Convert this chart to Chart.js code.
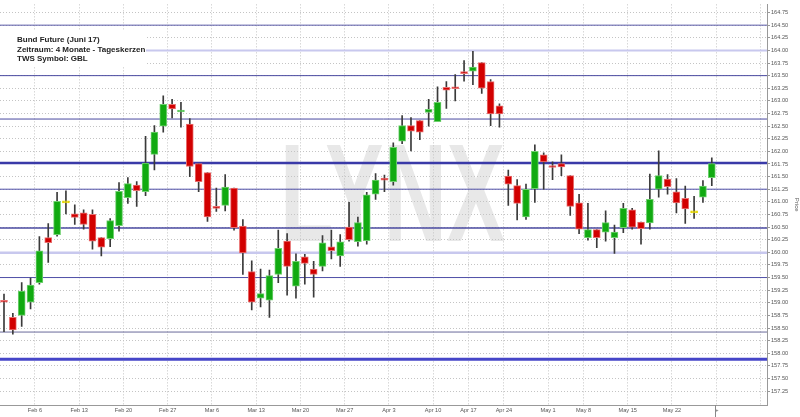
<!DOCTYPE html>
<html>
<head>
<meta charset="utf-8">
<script src="https://cdn.jsdelivr.net/npm/chart.js@4.4.0/dist/chart.umd.min.js"></script>
<style>
  html, body { margin: 0; padding: 0; background: #fff; }
  #canvas { display: block; }
</style>
</head>
<body>
<canvas id="canvas" width="800" height="417"></canvas>
<script>
'use strict';

// daily candles, index 0 = Jan 31 2017 (trading days only)
let opens = [159.03, 158.71, 158.75, 159.01, 159.40, 160.29, 160.35, 160.98, 160.76, 160.78,
  160.75, 160.29, 160.27, 160.53, 161.08, 161.33, 161.20, 161.94, 162.50, 162.93,
  162.78, 162.54, 161.76, 161.58, 160.89, 160.93, 161.27, 160.52, 159.62, 159.09,
  159.05, 159.56, 160.22, 159.33, 159.91, 159.67, 159.72, 160.11, 159.93, 160.50,
  160.21, 160.23, 161.15, 161.46, 161.40, 162.20, 162.51, 162.61, 162.77, 162.59,
  163.27, 163.26, 163.57, 163.59, 163.76, 163.38, 162.90, 161.51, 161.32, 160.70,
  161.26, 161.93, 161.70, 161.76, 161.52, 160.98, 160.29, 160.45, 160.40, 160.29,
  160.49, 160.84, 160.60, 160.58, 161.25, 161.45, 161.20, 161.07, 160.78, 161.09, 161.48];
let highs = [159.17, 158.79, 159.40, 159.49, 160.31, 160.57, 161.19, 161.22, 160.94, 160.84,
  160.84, 160.29, 160.67, 161.38, 161.48, 161.40, 162.30, 162.51, 163.10, 163.03,
  162.97, 162.65, 161.76, 161.58, 161.27, 161.54, 161.27, 160.65, 159.83, 159.67,
  159.65, 160.44, 160.37, 159.97, 159.96, 159.82, 160.33, 160.44, 160.35, 160.99,
  160.70, 161.19, 161.56, 161.53, 162.17, 162.71, 162.67, 162.61, 163.03, 163.28,
  163.38, 163.52, 163.80, 163.98, 163.76, 163.42, 162.94, 161.63, 161.44, 161.35,
  162.13, 161.97, 161.79, 161.93, 161.52, 161.15, 160.97, 160.45, 160.82, 160.54,
  160.97, 160.87, 160.60, 161.55, 162.01, 161.54, 161.46, 161.31, 161.11, 161.42, 161.87];
let lows = [158.43, 158.38, 158.53, 158.88, 159.37, 159.80, 160.32, 160.76, 160.55, 160.46,
  160.06, 159.93, 160.11, 160.42, 160.97, 160.91, 161.12, 161.63, 162.38, 162.66,
  162.48, 161.50, 161.20, 160.61, 160.81, 160.82, 160.44, 159.56, 158.86, 158.92,
  158.71, 159.40, 159.15, 159.09, 159.37, 159.11, 159.63, 159.87, 159.72, 160.22,
  160.12, 160.16, 161.05, 161.20, 161.33, 162.15, 162.01, 162.23, 162.50, 162.59,
  162.85, 163.00, 163.39, 163.32, 163.15, 162.51, 162.48, 160.93, 160.64, 160.65,
  160.99, 161.25, 161.44, 161.52, 160.73, 160.37, 160.24, 160.09, 160.22, 159.98,
  160.39, 160.46, 160.16, 160.46, 161.09, 161.15, 160.78, 160.57, 160.67, 160.99, 161.32];
let closes = [159.01, 158.46, 159.23, 159.35, 160.03, 160.19, 161.01, 160.98, 160.69, 160.55,
  160.22, 160.10, 160.63, 161.21, 161.36, 161.22, 161.77, 162.38, 162.93, 162.84,
  162.80, 161.70, 161.40, 160.70, 160.87, 161.29, 160.49, 159.99, 159.01, 159.18,
  159.54, 160.08, 159.72, 159.82, 159.78, 159.56, 160.19, 160.03, 160.21, 160.25,
  160.59, 161.14, 161.43, 161.43, 162.08, 162.51, 162.40, 162.38, 162.83, 162.97,
  163.21, 163.24, 163.54, 163.67, 163.25, 162.74, 162.74, 161.35, 160.97, 161.25,
  162.00, 161.79, 161.68, 161.69, 160.91, 160.46, 160.45, 160.29, 160.59, 160.40,
  160.87, 160.50, 160.47, 161.05, 161.52, 161.30, 160.98, 160.86, 160.78, 161.31, 161.76];

// week starts (between trading days) and their labels
let weekTicks = [3.5, 8.5, 13.5, 18.5, 23.5, 28.5, 33.5, 38.5, 43.5, 48.5, 52.5, 56.5, 61.5, 65.5, 70.5, 75.5, 80.5, 85.5];
let weekLabels = ['Feb 6', 'Feb 13', 'Feb 20', 'Feb 27', 'Mar 6', 'Mar 13', 'Mar 20', 'Mar 27', 'Apr 3',
  'Apr 10', 'Apr 17', 'Apr 24', 'May 1', 'May 8', 'May 15', 'May 22', ' +', ''];

let priceTicks = [157.25, 157.5, 157.75, 158, 158.25, 158.5, 158.75, 159, 159.25, 159.5, 159.75,
  160, 160.25, 160.5, 160.75, 161, 161.25, 161.5, 161.75, 162, 162.25, 162.5, 162.75,
  163, 163.25, 163.5, 163.75, 164, 164.25, 164.5, 164.75];

// horizontal support / resistance lines
let levels = [164.50, 164.00, 163.50, 162.64, 161.77, 161.25, 160.48, 159.99, 159.50, 158.42, 157.88];
let levelStyles = [
  {color: '#5a5aa8', width: 1},
  {color: '#c8c8ee', width: 2},
  {color: '#4a4aa0', width: 1},
  {color: '#4a4aa0', width: 1},
  {color: '#3a3aa8', width: 2.5},
  {color: '#5050a8', width: 1},
  {color: '#4a4aa0', width: 1.5},
  {color: '#c8c8ee', width: 2.5},
  {color: '#5050a8', width: 1},
  {color: '#6a6a9a', width: 1},
  {color: '#4646c8', width: 3}
];

let titleLines = ['Bund Future (Juni 17)', 'Zeitraum: 4 Monate - Tageskerzen', 'TWS Symbol: GBL'];

let canvas = document.getElementById('canvas');

let wickData = [];
let bodyData = [];
let bodyColors = [];
let edgeColors = [];

for (let i = 0; i < opens.length; i++) {
  wickData.push({x: i, y: [lows[i], highs[i]]});
  bodyData.push({x: i, y: [opens[i], closes[i]]});
  if (closes[i] > opens[i]) {
    bodyColors.push('#11aa11');
    edgeColors.push('#6fd06f');
  } else if (closes[i] < opens[i]) {
    bodyColors.push('#d20000');
    edgeColors.push('#e87070');
  } else {
    bodyColors.push('#e6d600');
    edgeColors.push('#e6d600');
  }
}

let bgPlugin = {
  id: 'bg',
  beforeDraw(chart) {
    let ctx = chart.ctx;
    ctx.save();
    ctx.fillStyle = '#fff';
    ctx.fillRect(0, 0, chart.width, chart.height);
    // watermark
    ctx.font = 'bold 140px "Liberation Sans"';
    let w = ctx.measureText('LYNX').width;
    ctx.translate(280, 241);
    ctx.scale(225 / w, 1);
    ctx.fillStyle = '#e8e8e8';
    ctx.textBaseline = 'alphabetic';
    ctx.fillText('LYNX', 0, 0);
    ctx.restore();
  },
  beforeDatasetsDraw(chart) {
    let ctx = chart.ctx;
    let area = chart.chartArea;
    let y = chart.scales.y;
    ctx.save();
    levels.forEach((lv, i) => {
      let py = y.getPixelForValue(lv);
      ctx.strokeStyle = levelStyles[i].color;
      ctx.lineWidth = levelStyles[i].width;
      ctx.beginPath();
      ctx.moveTo(area.left, py);
      ctx.lineTo(area.right, py);
      ctx.stroke();
    });
    ctx.restore();
  },
  afterDraw(chart) {
    let ctx = chart.ctx;
    let x = chart.scales.x;
    ctx.save();
    // info box
    ctx.fillStyle = '#fff';
    ctx.fillRect(0, 31, 146, 36);
    ctx.fillStyle = '#222';
    ctx.font = 'bold 8px "Liberation Sans"';
    ctx.textBaseline = 'middle';
    ctx.fillText(titleLines[0], 17, 40);
    ctx.fillText(titleLines[1], 17, 49.5);
    ctx.fillText(titleLines[2], 17, 59);
    // today marker below axis
    let px = Math.round(x.getPixelForValue(80.5)) - 0.5;
    ctx.strokeStyle = '#888';
    ctx.lineWidth = 1;
    ctx.beginPath();
    ctx.moveTo(px, chart.chartArea.bottom);
    ctx.lineTo(px, chart.height);
    ctx.stroke();
    ctx.restore();
  }
};

new Chart(canvas, {
  type: 'bar',
  data: {
    datasets: [{
      label: 'Range',
      data: wickData,
      backgroundColor: '#3a3a3a',
      barThickness: 1,
      minBarLength: 1,
      grouped: false,
      order: 2
    }, {
      label: 'Body',
      data: bodyData,
      backgroundColor: bodyColors,
      borderColor: edgeColors,
      borderWidth: 1,
      borderSkipped: false,
      barThickness: 7,
      minBarLength: 2,
      grouped: false,
      order: 1
    }]
  },
  options: {
    responsive: false,
    animation: false,
    devicePixelRatio: 1,
    layout: { padding: 0 },
    plugins: {
      legend: { display: false },
      tooltip: { enabled: false }
    },
    scales: {
      x: {
        type: 'linear',
        min: -0.452,
        max: 86.24,
        offset: false,
        grid: {
          offset: false,
          color: '#c4c4c4',
          lineWidth: 1,
          drawTicks: false
        },
        border: { display: true, color: '#999', width: 1, dash: [1, 2] },
        afterBuildTicks: scale => {
          scale.ticks = weekTicks.map(v => ({value: v}));
        },
        afterFit: scale => { scale.height = 12; },
        ticks: {
          autoSkip: false,
          maxRotation: 0,
          padding: 2,
          color: '#555',
          font: { family: 'Liberation Sans', size: 5.6 },
          callback: (value, index) => weekLabels[index]
        }
      },
      y: {
        type: 'linear',
        position: 'right',
        min: 156.975,
        max: 164.912,
        beginAtZero: false,
        grid: {
          color: '#c4c4c4',
          lineWidth: 1,
          drawTicks: true,
          tickLength: 3,
          tickColor: '#999',
          tickBorderDash: []
        },
        border: { display: true, color: '#999', width: 1, dash: [1, 2] },
        afterBuildTicks: scale => {
          scale.ticks = priceTicks.map(v => ({value: v}));
        },
        afterFit: scale => { scale.width = 33; },
        title: {
          display: true,
          text: 'Price',
          color: '#555',
          padding: 0,
          font: { family: 'Liberation Sans', size: 6 }
        },
        ticks: {
          padding: 1,
          color: '#555',
          font: { family: 'Liberation Sans', size: 5.6 },
          callback: v => v.toFixed(2)
        }
      }
    }
  },
  plugins: [bgPlugin]
});
</script>
</body>
</html>
